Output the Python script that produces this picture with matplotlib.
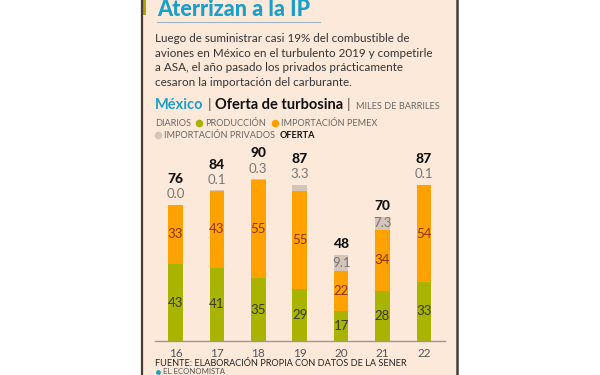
import matplotlib.pyplot as plt
from matplotlib.patches import Rectangle
from matplotlib.lines import Line2D

years = ['16', '17', '18', '19', '20', '21', '22']
produccion = [43, 41, 35, 29, 17, 28, 33]
pemex = [33, 43, 55, 55, 22, 34, 54]
privados = [0.0, 0.1, 0.3, 3.3, 9.1, 7.3, 0.1]
oferta = [76, 84, 90, 87, 48, 70, 87]

body = ['Luego de suministrar casi 19% del combustible de',
        'aviones en México en el turbulento 2019 y competirle',
        'a ASA, el año pasado los privados prácticamente',
        'cesaron la importación del carburante.']

c_prod = '#a8b400'
c_pemex = '#ffa200'
c_priv = '#d5c4b8'
c_teal = '#1a9fc9'
bg = '#fde9da'

W, H = 600, 375
def fx(x):
    return x / W
def fy(y):
    return 1 - y / H

plt.rcParams['font.family'] = ['Lato', 'DejaVu Sans']

fig = plt.figure(figsize=(6, 3.75), dpi=100)
fig.patch.set_facecolor('white')
rend = fig.canvas.get_renderer()


def row(x0, y, pieces):
    # pieces: (text or None for a dot, colour, size, weight, gap after)
    x = x0
    for txt, col, size, wt, gap in pieces:
        if txt is None:
            fig.add_artist(Line2D([fx(x + 3)], [fy(y - 3)], marker='o', ms=5.5, color=col, mec='none'))
            x += 6 + gap
        else:
            t = fig.text(fx(x), fy(y), txt, fontsize=size, weight=wt, color=col, va='baseline')
            x += t.get_window_extent(rend).width + gap


# panel + borders
fig.add_artist(Rectangle((fx(142), 0), fx(456) - fx(142), 1, transform=fig.transFigure,
                         facecolor=bg, edgecolor='none', zorder=0))
fig.add_artist(Line2D([fx(142), fx(142)], [0, 1], color='#4a3c34', lw=1.6))
fig.add_artist(Line2D([fx(457), fx(457)], [0, 1], color='#4a3c34', lw=1.8))
fig.add_artist(Rectangle((fx(143), fy(15)), fx(3), 15 / H, transform=fig.transFigure,
                         facecolor='#a8a800', edgecolor='none'))

# title
fig.text(fx(157), fy(16.5), 'Aterrizan a la IP', fontsize=15.5, weight='black', color=c_teal, va='baseline')
fig.add_artist(Line2D([fx(157), fx(320)], [fy(22), fy(22)], color='#9fb8c0', lw=0.8))

for i, line in enumerate(body):
    fig.text(fx(155), fy(42 + i * 14.6), line, fontsize=8.4, color='#333333', va='baseline')

# subtitle and legend
grey = '#666666'
row(155, 109, [('México', c_teal, 10.5, 'bold', 4), ('|', '#555555', 10, 'normal', 4),
               ('Oferta de turbosina', '#111111', 10.5, 'bold', 4), ('|', '#555555', 10, 'normal', 5),
               ('MILES DE BARRILES', grey, 6.6, 'normal', 0)])
row(155, 126, [('DIARIOS', grey, 6.6, 'normal', 5), (None, c_prod, 0, 0, 3),
               ('PRODUCCIÓN', grey, 6.6, 'normal', 6), (None, c_pemex, 0, 0, 3),
               ('IMPORTACIÓN PEMEX', grey, 6.6, 'normal', 0)])
row(155, 138, [(None, c_priv, 0, 0, 3), ('IMPORTACIÓN PRIVADOS', grey, 6.6, 'normal', 5),
               ('OFERTA', '#111111', 6.6, 'bold', 0)])

# chart
ax = fig.add_axes([fx(155), fy(341), fx(445) - fx(155), (341 - 162) / H])
ax.patch.set_visible(False)
x = list(range(len(years)))
w = 0.35
base2 = [a + b for a, b in zip(produccion, pemex)]
ax.bar(x, produccion, w, color=c_prod)
ax.bar(x, pemex, w, bottom=produccion, color=c_pemex)
ax.bar(x, privados, w, bottom=base2, color=c_priv)

for i in x:
    ax.text(i, produccion[i] / 2, str(produccion[i]), ha='center', va='center',
            fontsize=9.5, color='#3a3a22')
    ax.text(i, produccion[i] + pemex[i] / 2, str(pemex[i]), ha='center', va='center',
            fontsize=9.5, color='#8a3410')
    top = base2[i] + privados[i]
    if privados[i] > 5:
        ax.text(i, base2[i] + privados[i] / 2, f'{privados[i]:.1f}', ha='center', va='center',
                fontsize=9.5, color='#777777')
        ax.text(i, top + 6, str(oferta[i]), ha='center', va='center',
                fontsize=10, weight='black', color='#111111', clip_on=False)
    else:
        ax.text(i, top + 6, f'{privados[i]:.1f}', ha='center', va='center',
                fontsize=9.5, color='#777777', clip_on=False)
        ax.text(i, top + 14.5, str(oferta[i]), ha='center', va='center',
                fontsize=10, weight='black', color='#111111', clip_on=False)

ax.set_xlim(-0.495, 6.51)
ax.set_ylim(0, 100)
ax.set_xticks(x)
ax.set_xticklabels(years)
ax.set_yticks([])
for s in ['top', 'right', 'left']:
    ax.spines[s].set_visible(False)
ax.spines['bottom'].set_color('#999999')
ax.spines['bottom'].set_linewidth(1)
ax.tick_params(axis='x', length=0, pad=5, labelsize=8.5, labelcolor='#555555')

fig.text(fx(155), fy(366.5), 'FUENTE: ELABORACIÓN PROPIA CON DATOS DE LA SENER', fontsize=6.6,
         color='#222222', va='baseline')
fig.add_artist(Line2D([fx(158)], [fy(371.5)], marker='o', ms=3.5, color=c_teal, mec='none'))
fig.text(fx(163), fy(374.3), 'EL ECONOMISTA', fontsize=5.6, color='#555555', va='baseline')

fig.savefig('out.png', dpi=100)
